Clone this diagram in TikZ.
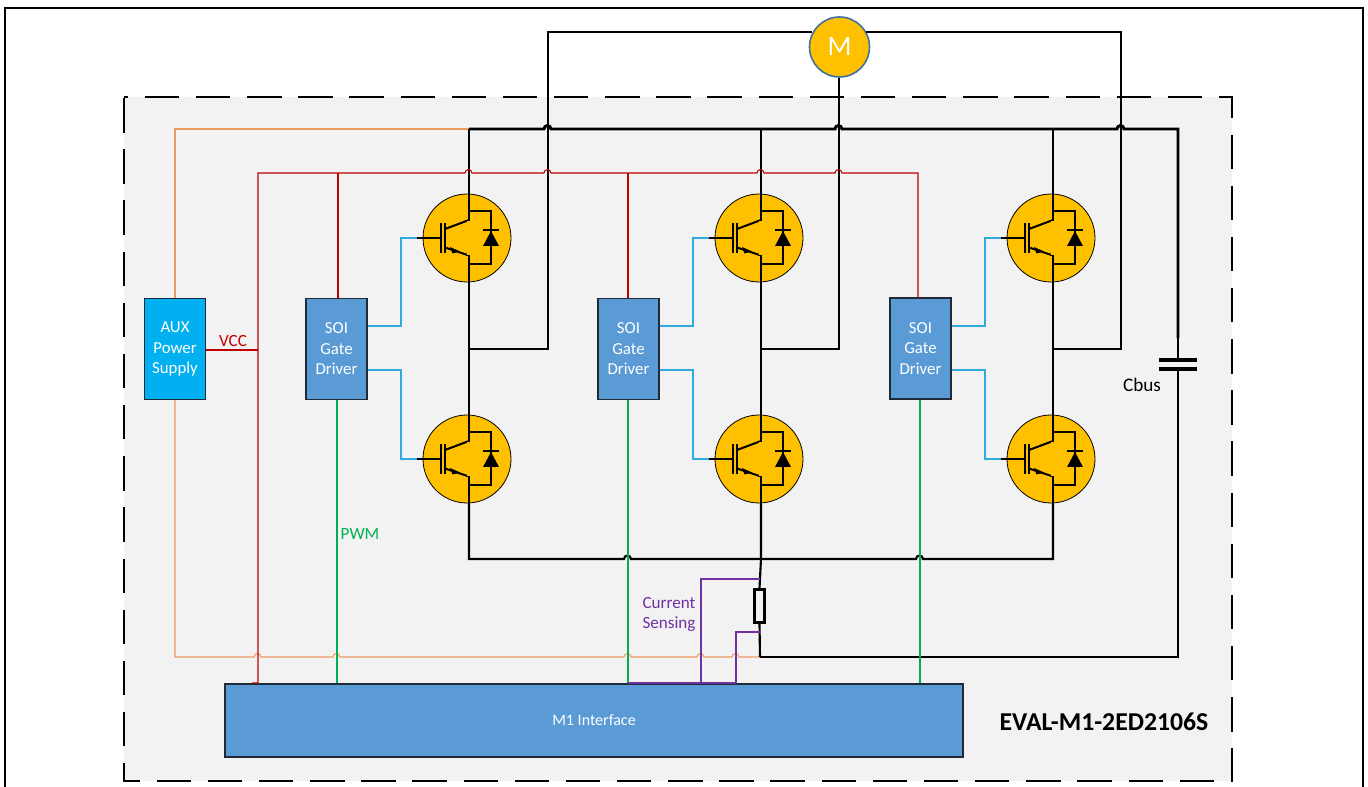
\documentclass[tikz,border=0pt]{standalone}
\usepackage{fontspec}
\setmainfont{Carlito}
\definecolor{panelgray}{HTML}{F2F2F2}
\definecolor{igbtgold}{HTML}{FFC000}
\definecolor{drvblue}{HTML}{5B9BD5}
\definecolor{auxblue}{HTML}{00B0F0}
\definecolor{drvedge}{HTML}{41719C}
\definecolor{boxedge}{HTML}{1E2A35}
\definecolor{wred}{HTML}{C00000}
\definecolor{wgreen}{HTML}{00B050}
\definecolor{wcyan}{HTML}{2FA9E0}
\definecolor{worange}{HTML}{ED9B62}
\definecolor{wpurple}{HTML}{7030A0}
\newcommand{\hop}[2]{-- (#1-4,#2) arc[start angle=180,end angle=0,radius=2.6pt]}
\tikzset{
  powerwire/.style={draw=black,line width=1.6pt},
  buswire/.style={draw=black,line width=2.2pt},
  vccwire/.style={draw=wred,line width=0.8pt},
  pwmwire/.style={draw=wgreen,line width=0.8pt},
  gatewire/.style={draw=wcyan,line width=0.8pt},
  auxwire/.style={draw=worange,line width=0.8pt},
  sensewire/.style={draw=wpurple,line width=0.8pt},
  driverbox/.style={draw=boxedge,line width=1pt,fill=drvblue,minimum width=45.75pt,minimum height=75.75pt,inner sep=0pt,align=center,font=\fontsize{12.6}{15.4}\selectfont,text=white},
  igbtdisc/.style={circle,draw=black,line width=0.6pt,fill=igbtgold,minimum size=66pt,inner sep=0pt},
  wirelabel/.style={inner sep=0pt,font=\fontsize{12.8}{15}\selectfont,align=center}
}
% IGBT symbol: #1 = node name, #2 = x, #3 = y
\newcommand{\igbt}[3]{%
  \node[igbtdisc] (#1) at (#2,#3) {};
  \begin{scope}[shift={(#2,#3)}]
    \coordinate (#1g) at (-50,0);
    \coordinate (#1c) at (2,-44);
    \coordinate (#1e) at (2,44);
    \draw[line width=1.6pt] (-50,0) -- (-26,0);
    \draw[line width=1.9pt] (-26,-15) -- (-26,15);
    \draw[line width=1.9pt] (-22,-15) -- (-22,15);
    \draw[line width=1.5pt] (-22,-9) -- (2,-18);
    \draw[line width=1.5pt] (-22,9.5) -- (2,17.5);
    \fill (-17,9) -- (-7,13.5) -- (-14.5,15.5) -- cycle;
    \draw[line width=1.6pt] (2,-44) -- (2,44);
    \fill[igbtgold] (0.4,-17) rectangle (3.6,17);
    \draw[line width=1.3pt] (2,-27) -- (24,-27) -- (24,26) -- (2,26);
    \fill (24,-7) -- (32,8) -- (16,8) -- cycle;
    \draw[line width=2pt] (16,-8) -- (32,-8);
  \end{scope}}
\begin{document}
\begin{tikzpicture}[x=0.75pt,y=-0.75pt]
\useasboundingbox (0,0) rectangle (1368,787);
% frame
\coordinate (fbl) at (5,787);
\coordinate (ftl) at (5,8);
\coordinate (ftr) at (1363,8);
\coordinate (fbr) at (1363,787);
\draw[line width=1.5pt] (fbl) -- (ftl) -- (ftr) -- (fbr);
% panel
\node[fill=panelgray,minimum width=831pt,minimum height=513pt,inner sep=0pt] (panel) at (678,439) {};
\draw[line width=1.4pt,dash pattern=on 25.8pt off 12.56pt,dash phase=22.5pt] (panel.north west) -- (panel.north east) -- (panel.south east) -- (panel.south west) -- cycle;

% junction coordinates
\coordinate (bus1) at (469,129);
\coordinate (busR) at (1178,129);
\coordinate (capT) at (1178,360);
\coordinate (capB) at (1178,369);
\coordinate (retR) at (1178,657);
\coordinate (retL) at (760,657);

% orange aux
\node[driverbox,fill=auxblue] (aux) at (175,349) {AUX\\Power\\Supply};
\draw[auxwire] (aux.north) -- (175,129) -- (bus1);
\draw[auxwire] (aux.south) -- (175,657)
  \hop{258}{657} \hop{337}{657} \hop{628}{657} \hop{701}{657} \hop{736}{657} -- (retL);

% drivers and M1
\node[driverbox] (d1) at (336.5,349) {SOI\\Gate\\Driver};
\node[driverbox] (d2) at (628.5,349) {SOI\\Gate\\Driver};
\node[driverbox] (d3) at (920.5,348.5) {SOI\\Gate\\Driver};
\node[draw=boxedge,line width=1.7pt,fill=drvblue,minimum width=553.5pt,minimum height=54.75pt,inner sep=0pt,text=white,font=\fontsize{12}{14}\selectfont] (m1) at (594,720.5) {M1 Interface};

% IGBTs
\igbt{q1}{467}{238}
\igbt{q2}{467}{459}
\igbt{q3}{759}{238}
\igbt{q4}{759}{459}
\igbt{q5}{1051}{238}
\igbt{q6}{1051}{459}

% motor
\node[circle,draw=drvedge,line width=1.2pt,fill=igbtgold,minimum size=45pt,inner sep=0pt,text=white,font=\fontsize{21}{24}\selectfont] (motor) at (839.5,47) {M};

% midpoints
\coordinate (mid1) at (469,349);
\coordinate (mid2) at (761,349);
\coordinate (mid3) at (1053,349);
\coordinate (low1) at (469,559);
\coordinate (low2) at (761,559);
\coordinate (low3) at (1053,559);

% phase wires
\draw[powerwire] (q1c) -- (469,129);
\draw[powerwire] (q3c) -- (761,129);
\draw[powerwire] (q5c) -- (1053,129);
\draw[powerwire] (q1e) -- (q2c);
\draw[powerwire] (q3e) -- (q4c);
\draw[powerwire] (q5e) -- (q6c);
\draw[powerwire] (mid1) -- (548,349) -- (548,32) -- (812,32);
\draw[powerwire] (mid2) -- (839,349) -- (motor.south -| 839,0);
\draw[powerwire] (mid3) -- (1121,349) -- (1121,32) -- (866,32);

% DC+ bus
\draw[buswire] (bus1) \hop{548}{129} \hop{839}{129} \hop{1121}{129} -- (busR) -- (1178,338);
\draw[powerwire] (1178,338) -- (capT);
\coordinate (plT1) at (1159,360);
\coordinate (plT2) at (1197,360);
\coordinate (plB1) at (1159,369);
\coordinate (plB2) at (1197,369);
\draw[line width=2.8pt] (plT1) -- (plT2);
\draw[line width=2.8pt] (plB1) -- (plB2);
\draw[powerwire] (capB) -- (retR) -- (retL);

% low side
\draw[powerwire] (q2e) -- (low1) \hop{628}{559} \hop{920}{559} -- (low3) -- (q6e);
\node[draw=black,line width=2.2pt,fill=panelgray,minimum width=8pt,minimum height=24.5pt,inner sep=0pt] (shunt) at (759.5,606) {};
\draw[powerwire] (q4e) -- (low2) -- (shunt.north);
\draw[powerwire] (shunt.south) -- (retL);

% gate wires
\foreach \d/\hi/\lo/\x in {d1/q1/q2/401,d2/q3/q4/693,d3/q5/q6/985}{
  \draw[gatewire] (\d.east |- 0,326) -- (\x,326) -- (\x,238) -- (\hi g);
  \draw[gatewire] (\d.east |- 0,370) -- (\x,370) -- (\x,459) -- (\lo g);
}

% VCC
\coordinate (vccj) at (258,350);
\draw[vccwire] (aux.east |- vccj) -- (vccj);
\draw[vccwire] (252,683) -- (258,683) -- (258,173) \hop{469}{173}
  \hop{548}{173} \hop{761}{173} \hop{839}{173} -- (918,173) -- (918,298);
\draw[vccwire,line width=1.1pt] (338,173) -- (338,298);
\draw[vccwire] (628,173) -- (628,298);

% PWM
\draw[pwmwire] (d1.south -| 337,0) -- (m1.north -| 337,0);
\draw[pwmwire] (d2.south -| 628,0) -- (m1.north -| 628,0);
\draw[pwmwire] (d3.south -| 920,0) -- (m1.north -| 920,0);

% current sense
\draw[sensewire] (628,683) -- (736,683) -- (736,632) -- (760,632);
\draw[sensewire] (701,683) -- (701,579) -- (760,579);

% labels
\node[wirelabel,text=wred] (lvcc) at (233,341) {VCC};
\node[wirelabel,text=wgreen] (lpwm) at (360,534) {PWM};
\node[wirelabel,text=wpurple] (lcs) at (669,614) {Current\\Sensing};
\node[wirelabel,text=black,font=\fontsize{14.4}{16}\selectfont] (lcb) at (1142,385) {Cbus};
\node[inner sep=0pt,font=\bfseries\fontsize{19.3}{22}\selectfont] (leval) at (1104,722) {EVAL-M1-2ED2106S};
\end{tikzpicture}
\end{document}
